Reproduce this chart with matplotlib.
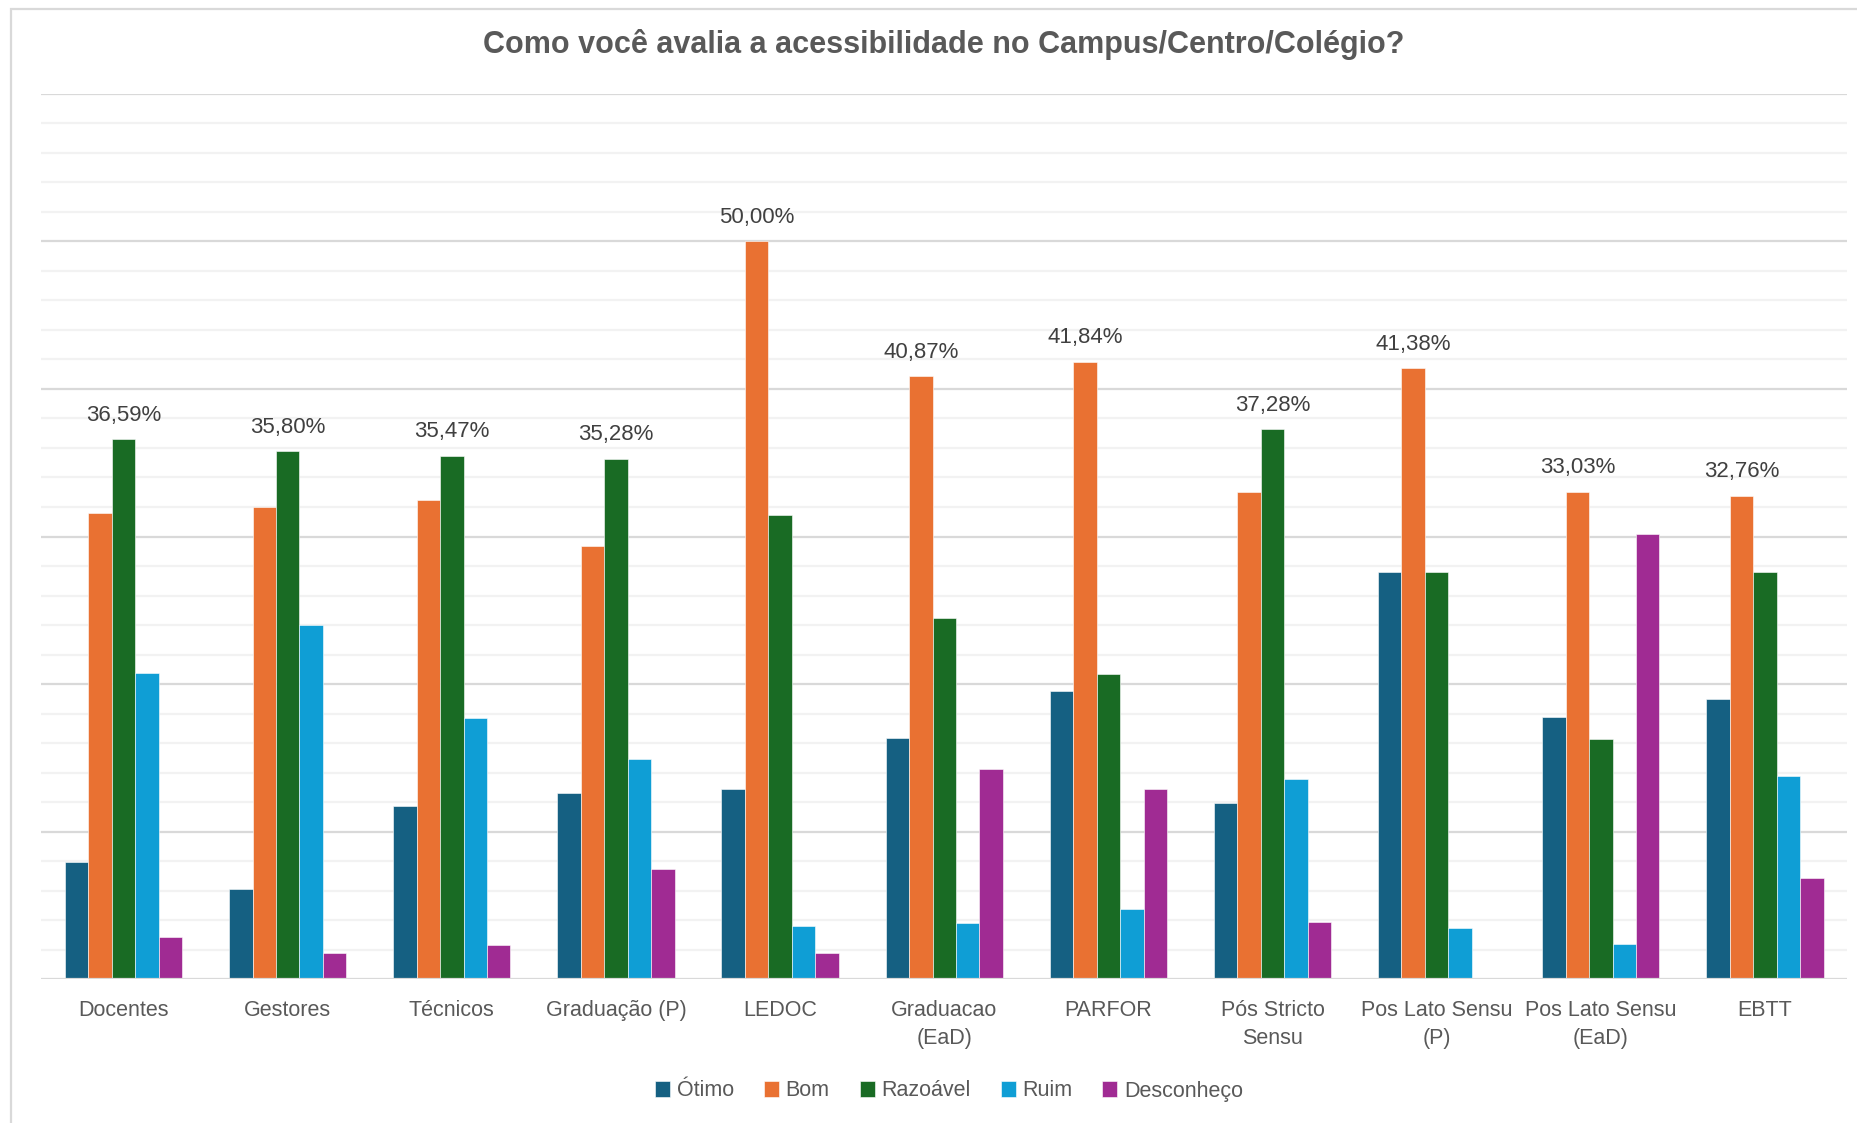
import matplotlib.pyplot as plt
import numpy as np
from matplotlib.patches import Rectangle

plt.rcParams['font.family'] = ['Liberation Sans', 'DejaVu Sans']

categories = ['Docentes', 'Gestores', 'Técnicos', 'Graduação (P)', 'LEDOC',
              'Graduacao\n(EaD)', 'PARFOR', 'Pós Stricto\nSensu',
              'Pos Lato Sensu\n(P)', 'Pos Lato Sensu\n(EaD)', 'EBTT']
series_names = ['Ótimo', 'Bom', 'Razoável', 'Ruim', 'Desconheço']
colors = ['#156082', '#E97132', '#196B24', '#0F9ED5', '#A02B93']

otimo = [7.93, 6.10, 11.72, 12.64, 12.91, 16.36, 19.55, 11.96, 27.59, 17.79, 18.97]
bom = [31.60, 32.02, 32.48, 29.34, 50.00, 40.87, 41.84, 33.04, 41.38, 33.03, 32.76]
razoavel = [36.59, 35.80, 35.47, 35.28, 31.47, 24.45, 20.66, 37.28, 27.59, 16.26, 27.59]
ruim = [20.74, 24.02, 17.70, 14.93, 3.62, 3.79, 4.74, 13.59, 3.45, 2.43, 13.79]
desconheco = [2.87, 1.80, 2.36, 7.49, 1.80, 14.25, 12.91, 3.89, 0.00, 30.20, 6.90]

data = np.array([otimo, bom, razoavel, ruim, desconheco])

W, H = 1858, 1123
fig = plt.figure(figsize=(W / 100, H / 100), dpi=100)
ax = fig.add_axes([41.5 / W, 1 - 979.4 / H, (1847 - 41.5) / W, (979.4 - 93.6) / H])

# chart border (only top and left visible in the crop)
fig.patches.append(Rectangle((11 / W, -0.05), 1.2, 1 - 9 / H + 0.05, transform=fig.transFigure,
                             fill=False, edgecolor='#D9D9D9', linewidth=1.6, zorder=0))

x = np.arange(len(categories))
group = 1 / 1.4
bw = group / 5
for i, name in enumerate(series_names):
    ax.bar(x - group / 2 + bw * (i + 0.5), data[i], width=bw, color=colors[i],
           edgecolor='white', linewidth=0.4, label=name, zorder=3)

# label only the largest bar of each group
for j in range(len(categories)):
    i = int(np.argmax(data[:, j]))
    v = data[i, j]
    ax.text(x[j] - group / 2 + bw * (i + 0.5), v + 0.9, f'{v:.2f}%'.replace('.', ','),
            ha='center', va='bottom', fontsize=16, color='#404040')

ax.set_xlim(-0.5, len(categories) - 0.5)
ax.set_ylim(0, 60)
for v in range(2, 61, 2):
    if v % 10 == 0:
        ax.axhline(v, color='#D9D9D9', linewidth=1.6, zorder=1)
    else:
        ax.axhline(v, color='#F2F2F2', linewidth=1.6, zorder=1)
ax.axhline(0, color='#D9D9D9', linewidth=1.6, zorder=4)

for s in ax.spines.values():
    s.set_visible(False)
ax.set_yticks([])
ax.set_xticks(x)
ax.set_xticklabels(categories, fontsize=15.5, color='#595959', linespacing=1.45)
ax.tick_params(axis='x', length=0, pad=15)

fig.text(944 / W, 1 - 45 / H, 'Como você avalia a acessibilidade no Campus/Centro/Colégio?',
         ha='center', va='center', fontsize=22, fontweight='bold', color='#595959')

fig.legend(loc='center', bbox_to_anchor=(949 / W, 1 - 1091 / H), ncol=5, frameon=False,
           fontsize=15.5, labelcolor='#595959', handlelength=0.7, handleheight=0.7,
           handletextpad=0.3, columnspacing=1.4)

fig.savefig('out.png', dpi=100, facecolor='white')
